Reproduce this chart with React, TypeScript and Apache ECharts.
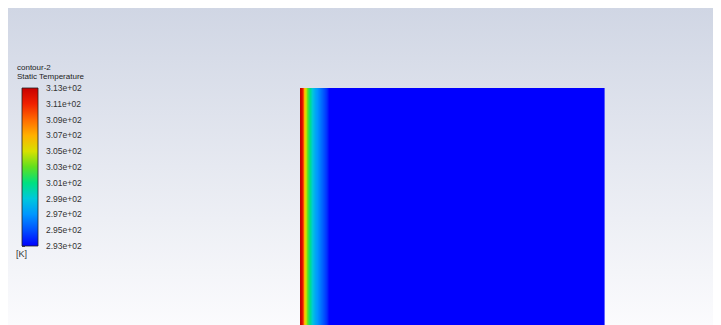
import React, { useEffect, useRef } from "react";
import * as echarts from "echarts";

// Temperature scale (K)
const T_MIN = 293;
const T_MAX = 313;
const T_STEP = 2;

// Fluent-like rainbow colormap, from T_MIN (blue) to T_MAX (red)
const colormap = [
  "#0000ff",
  "#0050ff",
  "#0096ff",
  "#00c8dc",
  "#00e080",
  "#60e020",
  "#d8e000",
  "#ffb000",
  "#ff6a00",
  "#f02000",
  "#c80000",
];

// Cell edges across the domain (mm) and the temperature of each cell (K)
const xEdges = [
  0, 0.1, 0.2, 0.3, 0.4, 0.5, 0.6, 0.7, 0.8, 0.9, 1.0, 1.1, 1.2, 1.3, 1.4,
  1.5, 1.6, 1.7, 1.8, 1.9, 2.0, 2.1, 2.2, 2.3, 2.4, 2.5, 2.6, 2.7, 2.8, 2.9,
  30.4,
];
const cellTemps = [
  313.0, 312.6, 311.6, 309.8, 307.0, 305.6, 304.4, 303.2, 302.2, 301.4, 300.6,
  299.9, 299.2, 298.6, 298.1, 297.7, 297.3, 297.0, 296.7, 296.4, 296.1, 295.8,
  295.5, 295.2, 294.9, 294.6, 294.3, 293.9, 293.4, 293.0,
];
const DOMAIN_HEIGHT = 30.0; // mm

const titleLines = ["contour-2", "Static Temperature"];
const unitLabel = "[K]";

const FONT = "'Liberation Sans', Arial, sans-serif";

function fmtExp(v: number): string {
  const s = v.toExponential(2);
  return s.replace(/e([+-])(\d)$/, "e$10$2");
}

export default function App() {
  const ref = useRef<HTMLDivElement>(null);

  useEffect(() => {
    if (!ref.current) return;
    const chart = echarts.init(ref.current, undefined, { renderer: "svg" });

    const cellData = cellTemps.map((t, i) => [xEdges[i], xEdges[i + 1], t]);
    const xMax = xEdges[xEdges.length - 1];
    const range = T_MAX - T_MIN;

    const gradStops = colormap
      .map((c, i) => ({ offset: 1 - i / (colormap.length - 1), color: c }))
      .reverse();

    const option: any = {
      animation: false,
      backgroundColor: "transparent",
      grid: [
        { left: 292, top: 80, width: 304, height: 300 },
        { left: 14, top: 80, width: 16, height: 158 },
      ],
      xAxis: [
        { type: "value", gridIndex: 0, min: 0, max: xMax, show: false },
        { type: "value", gridIndex: 1, min: 0, max: 1, show: false },
      ],
      yAxis: [
        {
          type: "value",
          gridIndex: 0,
          min: 0,
          max: DOMAIN_HEIGHT,
          show: false,
        },
        {
          type: "value",
          gridIndex: 1,
          min: 0,
          max: range,
          interval: T_STEP,
          position: "right",
          axisLine: { show: false },
          splitLine: { show: false },
          axisTick: {
            show: true,
            length: 3,
            lineStyle: { color: "#555", width: 1 },
          },
          axisLabel: {
            show: true,
            margin: 8,
            fontSize: 8.5,
            fontFamily: FONT,
            color: "#333",
            formatter: (v: number) => fmtExp(T_MIN + v),
          },
        },
      ],
      visualMap: {
        type: "continuous",
        show: false,
        min: T_MIN,
        max: T_MAX,
        dimension: 2,
        seriesIndex: 0,
        inRange: { color: colormap },
      },
      series: [
        {
          type: "custom",
          xAxisIndex: 0,
          yAxisIndex: 0,
          data: cellData,
          renderItem: (params: any, api: any) => {
            const p0 = api.coord([api.value(0), DOMAIN_HEIGHT]);
            const p1 = api.coord([api.value(1), 0]);
            return {
              type: "rect",
              shape: {
                x: p0[0],
                y: p0[1],
                width: p1[0] - p0[0] + 0.6,
                height: p1[1] - p0[1],
              },
              style: { fill: api.visual("color") },
            };
          },
        },
        {
          type: "custom",
          xAxisIndex: 1,
          yAxisIndex: 1,
          data: [[0, 1, 0, range]],
          renderItem: (params: any, api: any) => {
            const p0 = api.coord([api.value(0), api.value(3)]);
            const p1 = api.coord([api.value(1), api.value(2)]);
            return {
              type: "rect",
              shape: {
                x: p0[0],
                y: p0[1],
                width: p1[0] - p0[0],
                height: p1[1] - p0[1],
              },
              style: {
                fill: {
                  type: "linear",
                  x: 0,
                  y: 0,
                  x2: 0,
                  y2: 1,
                  colorStops: gradStops,
                },
                stroke: "#222",
                lineWidth: 0.8,
              },
            };
          },
        },
      ],
      graphic: [
        {
          type: "text",
          left: 9,
          top: 55,
          style: {
            text: titleLines[0],
            fontSize: 8,
            fontFamily: FONT,
            fill: "#222",
          },
        },
        {
          type: "text",
          left: 9,
          top: 64,
          style: {
            text: titleLines[1],
            fontSize: 8,
            fontFamily: FONT,
            fill: "#222",
          },
        },
        {
          type: "text",
          left: 8,
          top: 241,
          style: {
            text: unitLabel,
            fontSize: 9,
            fontFamily: FONT,
            fill: "#333",
          },
        },
      ],
    };

    chart.setOption(option);
    return () => chart.dispose();
  }, []);

  return (
    <div
      ref={ref}
      style={{
        width: 713,
        height: 317,
        background: "linear-gradient(to bottom, #d0d6e4 0%, #e6e9f1 50%, #fbfbfd 100%)",
      }}
    />
  );
}
